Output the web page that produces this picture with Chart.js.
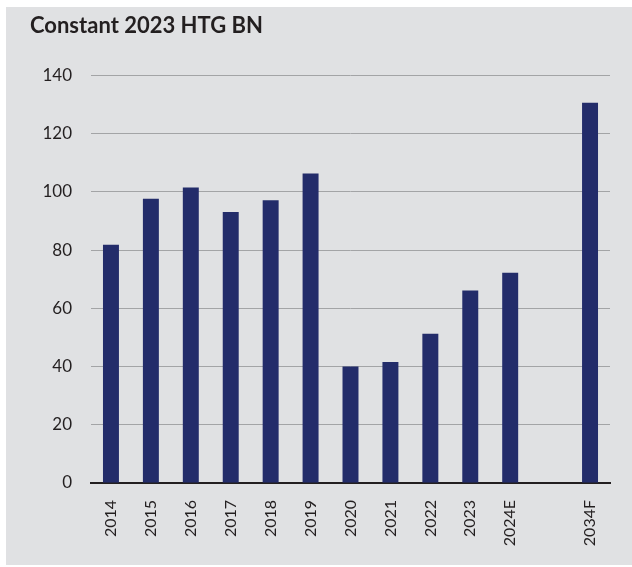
<!DOCTYPE html>
<html>
<head>
<meta charset="utf-8">
<style>
    html, body { margin: 0; padding: 0; background: #ffffff; }
    #wrap { width: 632px; height: 567px; }
</style>
<script src="https://cdn.jsdelivr.net/npm/chart.js@4/dist/chart.umd.min.js"></script>
</head>
<body>
<div id="wrap"><canvas id="chart" width="632" height="567"></canvas></div>
<script>
const years = ['2014', '2015', '2016', '2017', '2018', '2019', '2020', '2021', '2022', '2023', '2024E', '', '2034F'];
const values = [81.8, 97.6, 101.5, 93.1, 97.1, 106.3, 40.0, 41.6, 51.3, 66.1, 72.2, null, 130.6];
const yTicks = [0, 20, 40, 60, 80, 100, 120, 140];

const panelBg = {
    id: 'panelBg',
    beforeDraw(chart) {
        const ctx = chart.ctx;
        ctx.save();
        ctx.fillStyle = '#e0e1e3';
        ctx.fillRect(6, 7, chart.width - 6, chart.height - 9);
        ctx.restore();
    }
};

new Chart(
    document.getElementById('chart'),
    {
        type: 'bar',
        plugins: [panelBg],
        data: {
            labels: years,
            datasets: [{
                label: 'Constant 2023 HTG BN',
                data: values,
                backgroundColor: '#232c6a',
                barPercentage: 0.4,
                categoryPercentage: 1.0
            }]
        },
        options: {
            responsive: false,
            animation: false,
            layout: {
                padding: { left: 30, right: 22, top: 13, bottom: 0 }
            },
            plugins: {
                legend: { display: false },
                tooltip: { enabled: false },
                title: {
                    display: true,
                    text: 'Constant 2023 HTG BN',
                    align: 'start',
                    color: '#231f20',
                    font: { family: 'Lato', size: 22, weight: 'bold' },
                    padding: { top: 0, bottom: 36 }
                }
            },
            scales: {
                x: {
                    grid: { display: false },
                    border: { display: true, color: '#231f20', width: 2 },
                    ticks: {
                        color: '#231f20',
                        font: { family: 'Lato', size: 16 },
                        minRotation: 90,
                        maxRotation: 90,
                        autoSkip: false,
                        padding: 9
                    },
                    afterFit(scale) {
                        scale.height = 84;
                    }
                },
                y: {
                    min: 0,
                    max: 140,
                    afterBuildTicks(scale) {
                        scale.ticks = yTicks.map(v => ({ value: v }));
                    },
                    grid: { color: '#a3a4a6', lineWidth: 1, drawTicks: false },
                    border: { display: false },
                    ticks: {
                        color: '#231f20',
                        font: { family: 'Lato', size: 17 },
                        padding: 19
                    },
                    afterFit(scale) {
                        scale.width = 61;
                    }
                }
            }
        }
    }
);
</script>
</body>
</html>
